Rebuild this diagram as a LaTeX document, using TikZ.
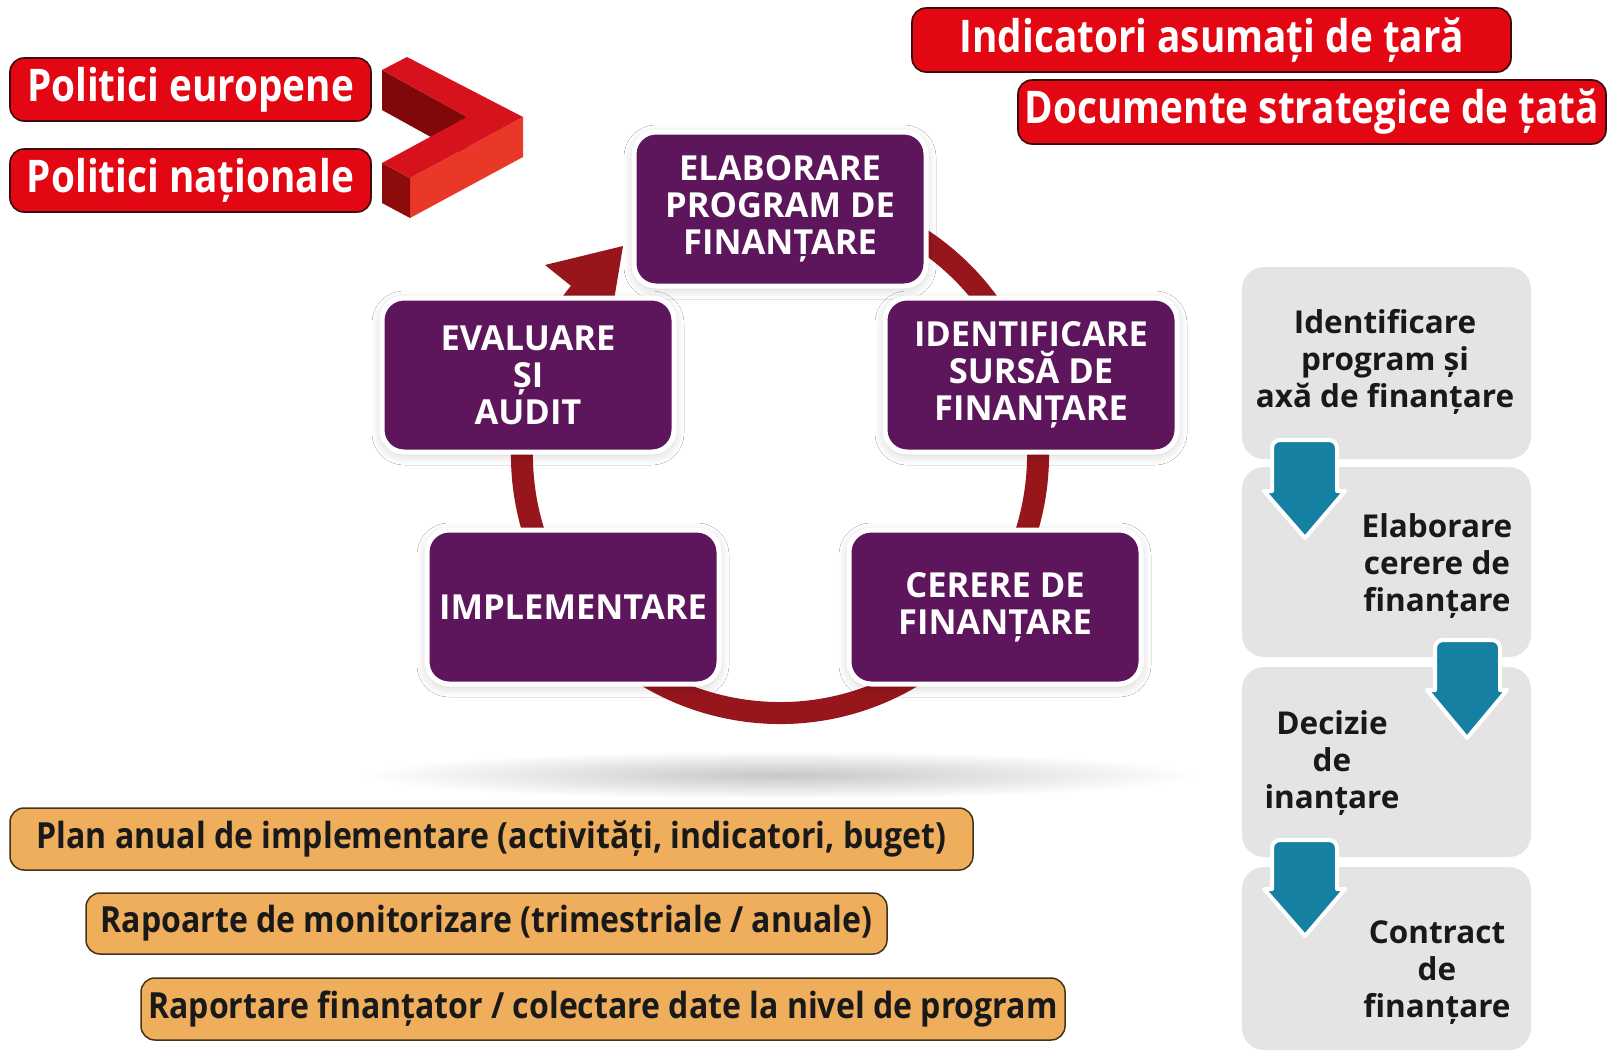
\documentclass[tikz,border=0pt]{standalone}
\usepackage{fontspec}
\setmainfont{Open Sans}
\newfontfamily\redfont{Open Sans}[FakeStretch=0.86]
\newfontfamily\condfont{Open Sans}[FakeStretch=0.89]
\usetikzlibrary{shadows.blur}
\definecolor{boxpurple}{RGB}{93,21,91}
\definecolor{ringred}{RGB}{150,22,28}
\definecolor{bred}{RGB}{227,6,19}
\definecolor{bborder}{RGB}{60,10,10}
\definecolor{chevtop}{RGB}{214,18,28}
\definecolor{chevdark}{RGB}{128,8,8}
\definecolor{chevside}{RGB}{233,56,40}
\definecolor{chevend}{RGB}{140,12,12}
\definecolor{graybox}{RGB}{228,228,228}
\definecolor{arrowblue}{RGB}{22,128,163}
\definecolor{orangebox}{RGB}{239,174,92}
\definecolor{oborder}{RGB}{70,50,25}
\definecolor{textblack}{RGB}{25,25,25}
\tikzset{
  purplebox/.style={rectangle, rounded corners=22pt, fill=boxpurple, draw=white,
    line width=5pt, minimum width=292pt, minimum height=154pt, text=white,
    align=center, font=\fontsize{34.5}{37}\selectfont\bfseries,
    blur shadow={shadow xshift=0pt, shadow yshift=-3pt, shadow blur radius=10pt, shadow opacity=20}},
  redbox/.style={rectangle, rounded corners=14pt, fill=bred, draw=bborder, line width=1.6pt,
    text=white, inner sep=0pt, font=\redfont\fontsize{45}{50}\selectfont\bfseries},
  orangebox/.style={rectangle, rounded corners=14pt, fill=orangebox, draw=oborder, line width=1.5pt,
    text=textblack, inner sep=0pt, font=\condfont\fontsize{36}{40}\selectfont\bfseries},
  graystep/.style={rectangle, rounded corners=22pt, fill=graybox, draw=none,
    minimum width=289pt, inner sep=0pt},
  graytext/.style={align=center, text=textblack, font=\fontsize{31.5}{37}\selectfont\bfseries, inner sep=0pt},
  bluearrow/.style={fill=arrowblue, draw=white, line width=4pt, line join=round},
}
\begin{document}
\begin{tikzpicture}[x=1pt,y=-1pt]
\path[use as bounding box, fill=white] (0,0) rectangle (1609,1053);

% shadow under cycle
\shade[inner color=black!22, outer color=white] (780,775) ellipse [x radius=420, y radius=24];

% chevron
\fill[chevdark] (382,70) -- (382,110) -- (467,157) -- (467,117) -- cycle;
\fill[chevside] (523,117) -- (523,157) -- (410,218) -- (410,178) -- cycle;
\fill[chevend] (382,163) -- (410,178) -- (410,218) -- (382,203) -- cycle;
\fill[chevtop] (407,57) -- (523,117) -- (410,178) -- (382,163) -- (467,117) -- (382,70) -- cycle;

% red boxes
\node[redbox, minimum width=361pt, minimum height=63pt] (pe) at (190.5,89.5) {Politici europene};
\node[redbox, minimum width=361pt, minimum height=63pt] (pn) at (190.5,180.5) {Politici naționale};
\node[redbox, minimum width=599pt, minimum height=64pt] (ind) at (1211.5,40) {Indicatori asumați de țară};
\node[redbox, minimum width=588pt, minimum height=64pt] (doc) at (1312,112) {Documente strategice de țată};

% cycle ring
\coordinate (cc) at (780,455);
\draw[ringred, line width=22pt] (cc) ++(-80:258) arc[start angle=-80, end angle=221, radius=258];
\fill[ringred] (545,265) -- (623,246) -- (611,318) -- cycle;

% cycle boxes
\node[purplebox] (elab) at (780,209) {ELABORARE\\PROGRAM DE\\FINANȚARE};
\node[purplebox] (ident) at (1031,375) {IDENTIFICARE\\SURSĂ DE\\FINANȚARE};
\node[purplebox] (cerere) at (995,607) {CERERE DE\\FINANȚARE};
\node[purplebox] (impl) at (573,607) {IMPLEMENTARE};
\node[purplebox] (eval) at (528,375) {EVALUARE\\ȘI\\AUDIT};

% right column
\node[graystep, minimum height=192pt] (g1) at (1386.5,363) {};
\node[graystep, minimum height=190pt] (g2) at (1386.5,562) {};
\node[graystep, minimum height=190pt] (g3) at (1386.5,762) {};
\node[graystep, minimum height=183pt] (g4) at (1386.5,958.5) {};
\node[graytext] (t1) at (1385,362) {Identificare\\program și\\axă de finanțare};
\node[graytext] (t2) at (1437,566) {Elaborare\\cerere de\\finanțare};
\node[graytext] (t3) at (1332,763) {Decizie\\de\\inanțare};
\node[graytext] (t4) at (1437,973) {Contract\\de\\finanțare};

\draw[bluearrow] (1272,491) [rounded corners=8pt] -- (1272,440) -- (1337,440) [sharp corners] -- (1337,491) -- (1345,491) -- (1305,538) -- (1264,491) -- cycle;
\draw[bluearrow] (1435,690) [rounded corners=8pt] -- (1435,640) -- (1500,640) [sharp corners] -- (1500,690) -- (1507,690) -- (1467,738) -- (1427,690) -- cycle;
\draw[bluearrow] (1272,889) [rounded corners=8pt] -- (1272,840) -- (1337,840) [sharp corners] -- (1337,889) -- (1345,889) -- (1305,936) -- (1264,889) -- cycle;

% orange boxes
\node[orangebox, minimum width=963pt, minimum height=62pt] (oa) at (491.5,839) {Plan anual de implementare (activități, indicatori, buget)};
\node[orangebox, minimum width=801pt, minimum height=61pt] (ob) at (486.5,923.5) {Rapoarte de monitorizare (trimestriale / anuale)};
\node[orangebox, minimum width=924pt, minimum height=62pt] (oc) at (603,1009) {Raportare finanțator / colectare date la nivel de program};
\end{tikzpicture}
\end{document}
